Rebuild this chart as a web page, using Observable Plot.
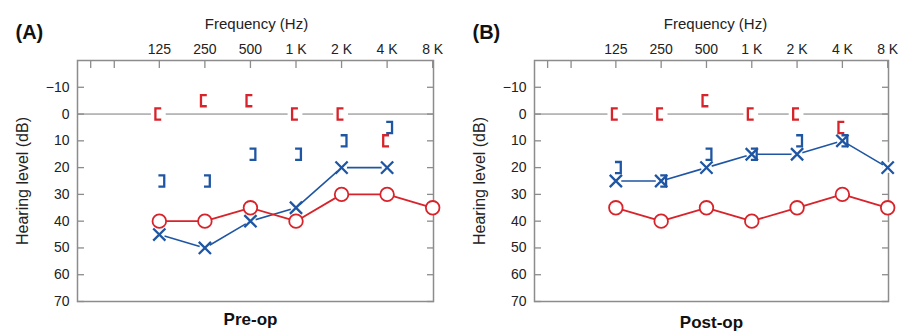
<!DOCTYPE html>
<html>
<head>
<meta charset="utf-8">
<script src="https://cdn.jsdelivr.net/npm/d3@7"></script>
<script src="https://cdn.jsdelivr.net/npm/@observablehq/plot@0.6"></script>
<style>
  html, body { margin: 0; padding: 0; background: #fff; }
  #wrap { display: flex; width: 909px; height: 331px; overflow: hidden; }
  svg { overflow: visible; }
</style>
</head>
<body>
<div id="wrap"></div>
<script>
// ---- data ----
const freqs = [125, 250, 500, 1000, 2000, 4000, 8000];
const xTickValues = [44, 63, 125, 250, 500, 1000, 2000, 4000, 8000];
const xTickLabels = ["", "", "125", "250", "500", "1 K", "2 K", "4 K", "8 K"];
const yTicks = [-10, 0, 10, 20, 30, 40, 50, 60, 70];

// Panel A (Pre-op)
const preRightAC  = [40, 40, 35, 40, 30, 30, 35];        // red O
const preLeftAC   = [45, 50, 40, 35, 20, 20, null];      // blue X
const preRightBC  = [0, -5, -5, 0, 0, 10, null];         // red [
const preLeftBC   = [25, 25, 15, 15, 10, 5, null];       // blue ]

// Panel B (Post-op)
const postRightAC = [35, 40, 35, 40, 35, 30, 35];
const postLeftAC  = [25, 25, 20, 15, 15, 10, 20];
const postRightBC = [0, 0, -5, 0, 0, 5, null];
const postLeftBC  = [20, 25, 15, 15, 10, 10, null];

const RED = "#d8232a";
const BLUE = "#1f56a3";
const GRAY = "#8c8c8c";
const FONT = "Liberation Sans, Arial, Helvetica, sans-serif";

const bracketLeft = {
  draw(ctx, size) {
    const h = Math.sqrt(size / Math.PI), w = h * 0.52;
    ctx.moveTo(w, -h); ctx.lineTo(-w, -h); ctx.lineTo(-w, h); ctx.lineTo(w, h);
  }
};
const bracketRight = {
  draw(ctx, size) {
    const h = Math.sqrt(size / Math.PI), w = h * 0.52;
    ctx.moveTo(-w, -h); ctx.lineTo(w, -h); ctx.lineTo(w, h); ctx.lineTo(-w, h);
  }
};

function rows(vals) {
  return freqs.map((f, i) => ({f, v: vals[i]})).filter(d => d.v != null);
}

function panel({letter, title, rAC, lAC, rBC, lBC, width, marginLeft, marginRight, titleDy, titleDx, freqDx}) {
  const R = rows(rAC), L = rows(lAC), RB = rows(rBC), LB = rows(lBC);
  const xTickFmt = d => xTickLabels[xTickValues.indexOf(d)];
  return Plot.plot({
    width, height: 331,
    marginLeft, marginRight, marginTop: 60, marginBottom: 30,
    style: {fontFamily: FONT, background: "#fff", overflow: "visible"},
    x: {type: "log", base: 2, domain: [36, 8100]},
    y: {domain: [-20, 70], reverse: true},
    marks: [
      // zero line
      Plot.ruleY([0], {stroke: "#7a7a7a", strokeWidth: 1}),
      // axes: inward ticks
      Plot.axisX({anchor: "top", ticks: xTickValues, tickSize: -7, text: null, label: null, stroke: GRAY, strokeWidth: 1.3}),
      Plot.axisX({anchor: "top", ticks: xTickValues, tickSize: 0, tickPadding: 7, tickFormat: xTickFmt, label: null, fontSize: 14, fill: "#222"}),
      Plot.axisY({anchor: "left", ticks: yTicks, tickSize: -7, text: null, label: null, stroke: GRAY, strokeWidth: 1.3}),
      Plot.axisY({anchor: "right", ticks: yTicks, tickSize: -7, text: null, label: null, stroke: GRAY, strokeWidth: 1.3}),
      Plot.axisY({anchor: "left", ticks: yTicks, tickSize: 0, tickPadding: 8, label: null, fontSize: 14, fill: "#222"}),
      Plot.frame({stroke: GRAY, strokeWidth: 1.5}),
      // halos behind brackets (break the zero line)
      Plot.dot(RB, {x: "f", y: "v", r: 7.5, fill: "#fff", stroke: null, dx: -1}),
      Plot.dot(LB, {x: "f", y: "v", r: 7.5, fill: "#fff", stroke: null, dx: 2}),
      // left ear AC line
      Plot.line(L, {x: "f", y: "v", stroke: BLUE, strokeWidth: 1.6}),
      Plot.dot(L, {x: "f", y: "v", r: 5.5, fill: "#fff", stroke: null}),
      // brackets
      Plot.dot(RB, {x: "f", y: "v", symbol: bracketLeft, r: 5.6, stroke: RED, strokeWidth: 2.3, fill: "none", dx: -1, strokeLinejoin: "miter"}),
      Plot.dot(LB, {x: "f", y: "v", symbol: bracketRight, r: 5.6, stroke: BLUE, strokeWidth: 2.3, fill: "none", dx: 2, strokeLinejoin: "miter"}),
      // right ear AC
      Plot.line(R, {x: "f", y: "v", stroke: RED, strokeWidth: 1.8}),
      Plot.dot(R, {x: "f", y: "v", r: 6.8, symbol: "circle", fill: "#fff", stroke: RED, strokeWidth: 1.8}),
      Plot.dot(L, {x: "f", y: "v", r: 5.6, symbol: "times", stroke: BLUE, strokeWidth: 2.3}),
      // texts
      Plot.text([letter], {frameAnchor: "top-left", text: d => d, textAnchor: "start", lineAnchor: "bottom", dx: -62, dy: -22, fontSize: 20, fontWeight: "bold", fill: "#111"}),
      Plot.text(["Frequency (Hz)"], {frameAnchor: "top", text: d => d, lineAnchor: "bottom", dx: freqDx, dy: -32, fontSize: 15, fill: "#222"}),
      Plot.text(["Hearing level (dB)"], {frameAnchor: "left", text: d => d, rotate: -90, lineAnchor: "middle", textAnchor: "middle", dx: -55, fontSize: 16, fill: "#222"}),
      Plot.text([title], {frameAnchor: "bottom", text: d => d, lineAnchor: "bottom", dx: titleDx, dy: titleDy, fontSize: 17, fontWeight: "bold", fill: "#111"})
    ]
  });
}

const wrap = document.getElementById("wrap");
wrap.appendChild(panel({letter: "(A)", title: "Pre-op", rAC: preRightAC, lAC: preLeftAC, rBC: preRightBC, lBC: preLeftBC,
  width: 455, marginLeft: 77, marginRight: 22, titleDy: 23, titleDx: -5, freqDx: 1}));
wrap.appendChild(panel({letter: "(B)", title: "Post-op", rAC: postRightAC, lAC: postLeftAC, rBC: postRightBC, lBC: postLeftBC,
  width: 454, marginLeft: 79, marginRight: 21, titleDy: 26, titleDx: 0, freqDx: 4}));
</script>
</body>
</html>
